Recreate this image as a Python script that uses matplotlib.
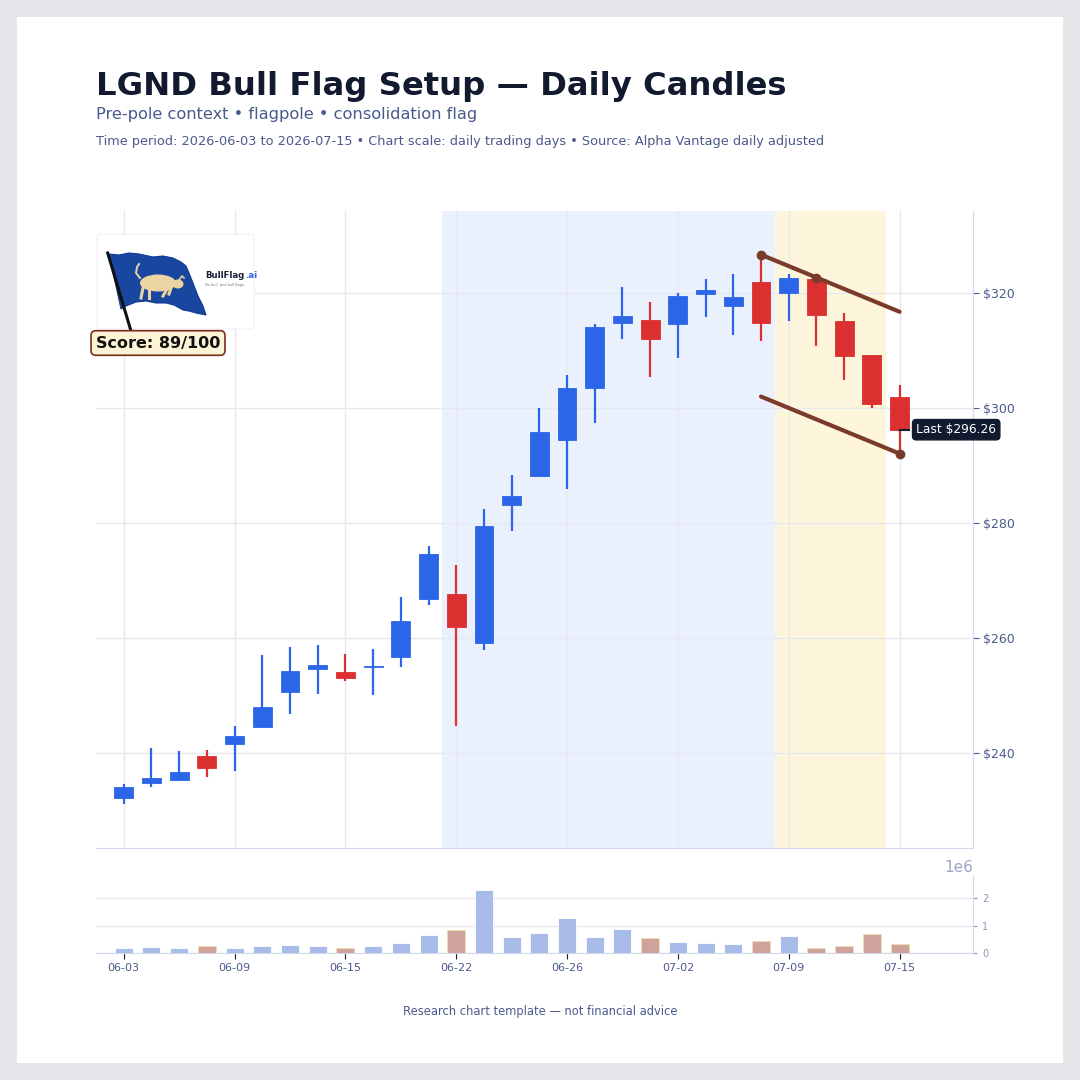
import matplotlib
matplotlib.use("Agg")
import matplotlib.pyplot as plt
from matplotlib.patches import Rectangle, Polygon, Ellipse, FancyBboxPatch
import numpy as np

plt.rcParams["font.family"] = ["DejaVu Sans"]

# daily trading days 2026-06-03 .. 2026-07-15
dates = ["06-03", "06-04", "06-05", "06-08", "06-09", "06-10", "06-11", "06-12",
         "06-15", "06-16", "06-17", "06-18", "06-22", "06-23", "06-24", "06-25",
         "06-26", "06-29", "06-30", "07-01", "07-02", "07-06", "07-07", "07-08",
         "07-09", "07-10", "07-13", "07-14", "07-15"]
opens = [232.2, 234.8, 235.4, 239.5, 241.6, 244.6, 250.6, 254.7, 254.1, 254.95,
         256.75, 266.8, 267.65, 259.1, 283.1, 288.2, 294.4, 303.5, 314.8, 315.3,
         314.65, 319.9, 317.8, 322.0, 320.0, 322.4, 315.1, 309.2, 302.0]
highs = [234.6, 240.9, 240.35, 240.5, 244.7, 257.0, 258.4, 258.8, 257.2, 258.1,
         267.1, 276.05, 272.7, 282.4, 288.35, 300.1, 305.7, 314.7, 321.0, 318.5,
         320.05, 322.4, 323.35, 326.7, 323.35, 322.73, 316.5, 309.2, 304.0]
lows = [231.2, 234.1, 235.3, 235.9, 236.9, 244.5, 246.8, 250.3, 252.6, 250.1,
        254.9, 265.8, 244.75, 257.9, 278.6, 288.0, 286.0, 297.4, 311.95, 305.4,
        308.8, 315.8, 312.75, 311.7, 315.1, 310.8, 304.9, 299.95, 292.1]
closes = [234.1, 235.65, 236.8, 237.4, 243.0, 248.05, 254.3, 255.35, 253.0, 255.05,
          262.95, 274.7, 261.9, 279.5, 284.75, 295.9, 303.5, 314.1, 316.05, 311.95,
          319.6, 320.5, 319.4, 314.8, 322.65, 316.2, 309.0, 300.8, 296.26]
volumes = [0.18, 0.22, 0.18, 0.25, 0.18, 0.25, 0.29, 0.25, 0.18, 0.25, 0.35, 0.64,
           0.85, 2.30, 0.57, 0.71, 1.27, 0.57, 0.88, 0.53, 0.40, 0.35, 0.31, 0.44,
           0.61, 0.18, 0.25, 0.68, 0.31]  # millions of shares
tick_idx = [0, 4, 8, 12, 16, 20, 24, 28]
pole_span = (11.5, 23.5)
flag_span = (23.5, 27.5)
upper_pts = [23, 25]   # highs the upper flag line passes through
last_idx = 28

BLUE = "#2b66e8"
RED = "#dc2f2f"
TXT = "#4a5a8c"
GRID = "#e6e8ef"
SPINE = "#d3d9ec"

fig = plt.figure(figsize=(10.8, 10.8), dpi=100, facecolor="#e5e7eb")
fig.patches.append(Rectangle((17 / 1080, 17 / 1080), 1046 / 1080, 1046 / 1080,
                             transform=fig.transFigure, fc="white", ec="none", zorder=-5))

ax = fig.add_axes([96 / 1080, 1 - 848 / 1080, 877 / 1080, 637 / 1080])
axv = fig.add_axes([96 / 1080, 1 - 953 / 1080, 877 / 1080, 77 / 1080], sharex=ax)

x = np.arange(len(dates))
o = np.array(opens)
c = np.array(closes)
up = c >= o
cols = np.where(up, BLUE, RED)

# phases
ax.axvspan(*pole_span, color="#eaf1fd", zorder=0, lw=0)
ax.axvspan(*flag_span, color="#fef6dc", zorder=0, lw=0)

# candles
ax.vlines(x, lows, highs, colors=cols, lw=1.6, zorder=3)
body_bottom = np.minimum(o, c)
body_h = np.maximum(np.abs(c - o), 0.25)
ax.bar(x, body_h, bottom=body_bottom, width=0.68, color=cols,
       edgecolor=cols, linewidth=0.6, zorder=4)

# flag channel
slope = (highs[upper_pts[1]] - highs[upper_pts[0]]) / (upper_pts[1] - upper_pts[0])
xs = np.array([upper_pts[0], last_idx])
upper = highs[upper_pts[0]] + slope * (xs - upper_pts[0])
lower = lows[last_idx] + slope * (xs - last_idx)
ax.plot(xs, upper, color="#7b3b2a", lw=3, zorder=5, solid_capstyle="round")
ax.plot(xs, lower, color="#7b3b2a", lw=3, zorder=5, solid_capstyle="round")
ax.plot(upper_pts, [highs[i] for i in upper_pts], "o", color="#7b3b2a", ms=6, zorder=6)
ax.plot([last_idx], [lows[last_idx]], "o", color="#7b3b2a", ms=6, zorder=6)

# last price tag
ax.plot([last_idx, last_idx + 0.35], [closes[-1]] * 2, color="#111a2e", lw=1.5, zorder=6)
ax.text(last_idx + 0.6, closes[-1], f"Last ${closes[-1]:.2f}", va="center", ha="left",
        fontsize=8.8, color="white", zorder=7, clip_on=False,
        bbox=dict(boxstyle="round,pad=0.3", fc="#111a2e", ec="#111a2e"))

ax.set_xlim(-1.0, 30.65)
ax.set_ylim(223.5, 334.3)
ax.set_yticks([240, 260, 280, 300, 320])
ax.set_yticklabels([f"${v}" for v in [240, 260, 280, 300, 320]])
ax.yaxis.tick_right()
ax.tick_params(axis="y", colors=TXT, labelsize=9, length=4, width=0.8)
ax.tick_params(axis="x", length=0, labelbottom=False)
ax.set_xticks(tick_idx)
ax.grid(True, color=GRID, lw=1, zorder=1)
ax.set_axisbelow(True)
for s in ["left", "top"]:
    ax.spines[s].set_visible(False)
for s in ["right", "bottom"]:
    ax.spines[s].set_color(SPINE)

# volume
vcols = np.where(up, "#a8bbe9", "#cfa29b")
vedge = np.where(up, "white", "#f3dfae")
axv.bar(x, np.array(volumes) * 1e6, width=0.65, color=vcols, edgecolor=vedge,
        linewidth=0.6, zorder=3)
axv.set_ylim(0, 2.8e6)
axv.set_yticks([0, 1e6, 2e6])
axv.yaxis.tick_right()
axv.tick_params(axis="y", colors="#8a97b8", labelsize=7, length=3)
axv.yaxis.get_offset_text().set_color("#9aa5c8")
axv.yaxis.get_offset_text().set_fontsize(11)
axv.set_xticks(tick_idx)
axv.set_xticklabels([dates[i] for i in tick_idx])
axv.tick_params(axis="x", labelsize=8, labelcolor=TXT, color="#222222", length=4)
axv.grid(True, axis="y", color=GRID, lw=1, zorder=0)
axv.set_axisbelow(True)
for s in ["left", "top"]:
    axv.spines[s].set_visible(False)
for s in ["right", "bottom"]:
    axv.spines[s].set_color(SPINE)

# titles
fig.text(96 / 1080, 1 - 71 / 1080, "LGND Bull Flag Setup — Daily Candles", fontsize=23.2,
         fontweight="bold", color="#111a2e", va="top", ha="left")
fig.text(96 / 1080, 1 - 115 / 1080, "Pre-pole context • flagpole • consolidation flag",
         fontsize=11.7, color=TXT, va="center", ha="left")
fig.text(96 / 1080, 1 - 141 / 1080,
         "Time period: 2026-06-03 to 2026-07-15 • Chart scale: daily trading days • "
         "Source: Alpha Vantage daily adjusted",
         fontsize=9.3, color=TXT, va="center", ha="left")
fig.text(0.5, 1 - 1011 / 1080, "Research chart template — not financial advice",
         fontsize=8.3, color=TXT, va="center", ha="center")

# logo
lg = fig.add_axes([96 / 1080, 1 - 330 / 1080, 159 / 1080, 97 / 1080])
lg.set_xlim(0, 159)
lg.set_ylim(97, 0)
lg.axis("off")
lg.add_patch(FancyBboxPatch((1, 1), 157, 95, boxstyle="round,pad=0,rounding_size=4",
                            fc="white", ec="#f1f2f5", lw=0.8, zorder=0))
flag = [(13, 21), (23, 22), (33, 20), (43, 21), (57, 24), (67, 23), (77, 25), (85, 29),
        (90, 33), (93, 40), (97, 50), (102, 63), (107, 73), (110, 82), (100, 80),
        (93, 78), (87, 77), (78, 72), (70, 70), (60, 70), (50, 68), (40, 69), (30, 73),
        (25, 76)]
lg.add_patch(Polygon(flag, closed=True, fc="#1947a0", ec="#0f3c8f", lw=0.8, zorder=1))
lg.plot([11.7, 35], [20, 98], color="#111111", lw=2.2, zorder=2)
tan = "#ecd3a2"
lg.add_patch(Ellipse((62, 50), 36, 17, fc=tan, ec="none", zorder=3))
lg.add_patch(Ellipse((82, 51), 11, 9, fc=tan, ec="none", zorder=3))
lg.plot([83, 86, 88], [47, 43, 45], color=tan, lw=1.2, zorder=3)
lg.plot([44, 40, 41, 43], [45, 40, 34, 31], color=tan, lw=1.4, zorder=3)
lg.plot([47, 45], [55, 65], color=tan, lw=2.2, zorder=3)
lg.plot([53, 53], [56, 65], color=tan, lw=2.2, zorder=3)
lg.plot([71, 67], [56, 63], color=tan, lw=2.2, zorder=3)
lg.plot([75, 73], [55, 61], color=tan, lw=2.2, zorder=3)
lg.text(109, 43, "BullFlag", fontsize=6.2, fontweight="bold", color="#1a2238",
        va="center", ha="left")
lg.text(149, 43, ".ai", fontsize=6.2, fontweight="bold", color="#2b66e8",
        va="center", ha="left", clip_on=False)
lg.text(109, 52, "No bull. Just bull flags.", fontsize=2.5, color="#6b7280",
        va="center", ha="left")

fig.text(158 / 1080, 1 - 343 / 1080, "Score: 89/100", fontsize=11.5, fontweight="bold",
         color="#111111", va="center", ha="center", zorder=10,
         bbox=dict(boxstyle="round,pad=0.3", fc="#fdf3d6", ec="#7a2e1a", lw=1.2))

fig.savefig("out.png", dpi=100, facecolor=fig.get_facecolor())
